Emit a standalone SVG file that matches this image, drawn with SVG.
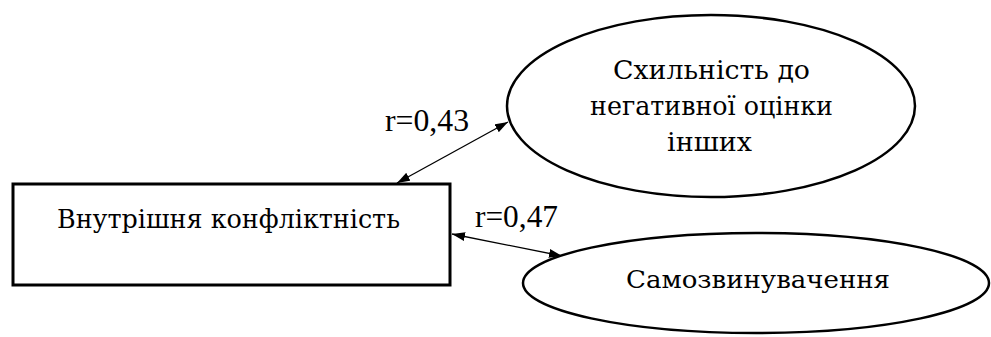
<svg xmlns="http://www.w3.org/2000/svg" width="991" height="337" viewBox="0 0 991 337">
<style>
.node{fill:#fff;stroke:#000}
.t{font-family:"Liberation Serif","Times New Roman",serif;fill:#000}
.n{font-family:"DejaVu Serif","Liberation Serif",serif;fill:#000}
.c{stroke:#000;stroke-width:1.3;fill:none}
</style>
<defs>
<marker id="ah" viewBox="0 0 13 9" refX="13" refY="4.5" markerWidth="13" markerHeight="9" markerUnits="userSpaceOnUse" orient="auto-start-reverse">
<path d="M0,0 L13,4.5 L0,9 z" fill="#000"/>
</marker>
</defs>
<rect width="991" height="337" fill="#fff"/>
<g id="connectors">
<line class="c" x1="397" y1="183" x2="508" y2="122" marker-start="url(#ah)" marker-end="url(#ah)"/>
<line class="c" x1="452" y1="234" x2="562" y2="256" marker-start="url(#ah)" marker-end="url(#ah)"/>
<text class="t" x="385" y="131" font-size="31" textLength="84" lengthAdjust="spacingAndGlyphs">r=0,43</text>
<text class="t" x="475" y="227" font-size="31" textLength="83" lengthAdjust="spacingAndGlyphs">r=0,47</text>
</g>
<g id="node-conflict">
<rect class="node" x="13" y="184" width="437" height="101" stroke-width="3"/>
<text class="n" x="57" y="228" font-size="26" textLength="343" lengthAdjust="spacingAndGlyphs">Внутрішня  конфліктність</text>
</g>
<g id="node-negative">
<ellipse class="node" cx="711" cy="106" rx="204" ry="91" stroke-width="2.5"/>
<text class="n" x="613" y="79" font-size="26" textLength="197" lengthAdjust="spacingAndGlyphs">Схильність  до</text>
<text class="n" x="590" y="115" font-size="26" textLength="243" lengthAdjust="spacingAndGlyphs">негативної оцінки</text>
<text class="n" x="667" y="151" font-size="26" textLength="85" lengthAdjust="spacingAndGlyphs">інших</text>
</g>
<g id="node-self">
<ellipse class="node" cx="756" cy="283" rx="233" ry="50" stroke-width="2.5"/>
<text class="n" x="626" y="288" font-size="25" textLength="264" lengthAdjust="spacingAndGlyphs">Самозвинувачення</text>
</g>
</svg>
